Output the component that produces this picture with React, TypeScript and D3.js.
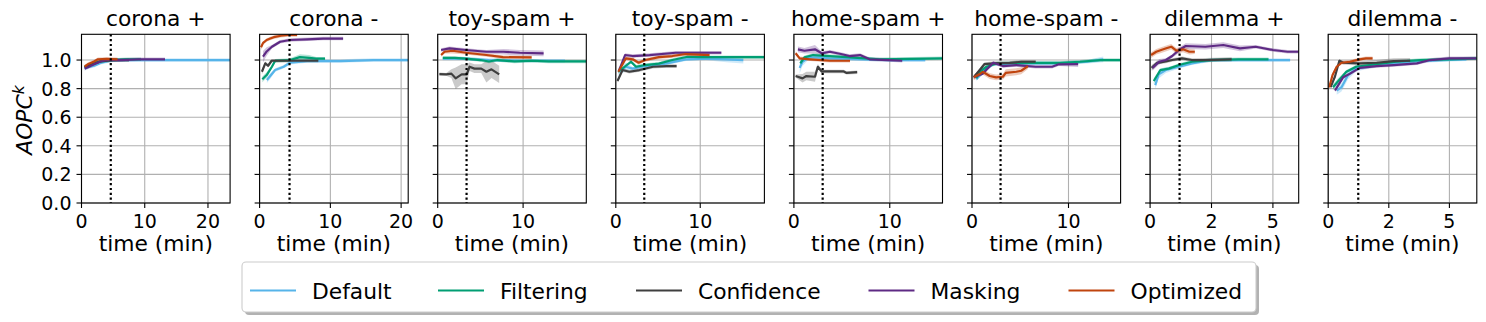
import React from 'react';
import * as d3 from 'd3';

type P = number[]; // [time, value, ciHalfWidth?]

const titles = ['corona +', 'corona -', 'toy-spam +', 'toy-spam -', 'home-spam +', 'home-spam -', 'dilemma +', 'dilemma -'];
const xMaxes = [23.5, 21, 17.4, 17.6, 15.5, 15.4, 6.05, 6.13];
const xTicks = [[0, 10, 20], [0, 10, 20], [0, 10], [0, 10], [0, 10], [0, 10], [0, 2.5, 5], [0, 2.5, 5]];
const xTickLabels = [['0', '10', '20'], ['0', '10', '20'], ['0', '10'], ['0', '10'], ['0', '10'], ['0', '10'], ['0', '2', '5'], ['0', '2', '5']];
const dottedAt = [4.63, 4.23, 3.38, 3.37, 3.0, 2.96, 1.2, 1.24];
const yTicks = [0, 0.2, 0.4, 0.6, 0.8, 1.0];
const yTickLabels = ['0.0', '0.2', '0.4', '0.6', '0.8', '1.0'];
const methods = ['Default', 'Filtering', 'Confidence', 'Masking', 'Optimized'];
const colors = ['#56B4E9', '#009E73', '#3f3f3f', '#5e2a84', '#c0440e'];

// series order: Default, Filtering, Confidence, Masking, Optimized
const coronaPlus: P[][] = [
  [[0.5, 0.94, 0.015], [1, 0.95], [2, 0.96], [3, 0.98], [4, 0.99], [5, 1.0], [8, 1.0], [12, 1.0], [16, 1.0], [20, 1.0], [23.5, 1.0]],
  [[0.5, 0.95], [1, 0.96], [2, 0.98], [3, 0.99], [5, 1.0], [7, 1.005], [9.4, 1.005]],
  [[0.5, 0.95], [1, 0.96], [2, 0.975], [3, 0.99], [5, 1.0], [7.5, 1.0]],
  [[0.5, 0.94], [1, 0.95], [2, 0.97], [3, 0.99], [4, 1.0], [6, 1.0], [9, 1.005], [13.2, 1.005]],
  [[0.5, 0.955], [1, 0.97], [2, 0.99], [2.6, 1.005], [4, 1.008], [5.7, 1.005]],
];
const coronaMinus: P[][] = [
  [[1.03, 0.86, 0.02], [1.5, 0.888, 0.02], [2.2, 0.93], [3.4, 0.953], [4.3, 0.981], [6.7, 0.993], [11.4, 0.993], [16.1, 1.0], [21, 1.0]],
  [[0.38, 0.865, 0.02], [1.0, 0.895, 0.02], [1.74, 0.953], [2.2, 0.995], [4.3, 1.0], [5.7, 1.02, 0.02], [7.0, 1.015, 0.02], [8.0, 1.01], [9.25, 1.01]],
  [[0.33, 0.918, 0.02], [0.8, 0.977], [1.2, 0.96], [1.7, 0.995], [3.2, 0.995], [8.3, 0.995]],
  [[0.48, 1.023, 0.04], [1.0, 1.06, 0.03], [1.74, 1.093], [2.9, 1.128], [4.3, 1.14], [6.7, 1.145], [9.0, 1.15], [11.8, 1.15]],
  [[0.2, 1.09, 0.02], [0.5, 1.12], [1, 1.14], [1.5, 1.15], [2, 1.16], [3, 1.17], [4, 1.175], [5.3, 1.175]],
];
const toySpamPlus: P[][] = [
  [[0.6, 1.01], [3, 1.01], [6, 1.0], [10, 0.995], [14.9, 0.995]],
  [[0.6, 1.015], [2, 1.015], [3.3, 1.01], [5, 1.0], [6, 0.99], [7, 1.0], [9, 0.99], [11, 0.995], [13, 0.99], [17.4, 0.99]],
  [[0.2, 0.902, 0.01], [1.0, 0.9, 0.01], [1.6, 0.905, 0.03], [2.1, 0.872, 0.075], [2.8, 0.9, 0.07], [3.4, 0.9, 0.07], [3.73, 0.953, 0.03], [4.3, 0.94, 0.03], [5.1, 0.94, 0.03], [5.7, 0.918, 0.075], [6.3, 0.935, 0.06], [7.2, 0.9, 0.06]],
  [[0.4, 1.07], [1.38, 1.082], [3.3, 1.07], [5.7, 1.058], [7.7, 1.058, 0.02], [9.6, 1.051, 0.02], [12.4, 1.047, 0.02]],
  [[0.4, 1.035], [0.8, 1.058], [1.76, 1.065, 0.02], [3.3, 1.051], [5.7, 1.035], [7.65, 1.02], [11.0, 1.018]],
];
const toySpamMinus: P[][] = [
  [[0.3, 0.92, 0.03], [1.2, 0.953, 0.03], [2.0, 0.94], [3.5, 0.958], [5.9, 0.975], [8.3, 1.005], [10.7, 1.01], [13.1, 1.005, 0.02], [15.1, 1.0, 0.025]],
  [[0.3, 0.918], [1.8, 0.988], [2.4, 0.953], [3.5, 0.965], [5.1, 0.975], [6.7, 1.0], [8.5, 1.023], [9.9, 1.02], [17.6, 1.02]],
  [[0.2, 0.853], [0.8, 0.93], [1.6, 0.918], [2.8, 0.93], [4.4, 0.953], [6.0, 0.958], [7.2, 0.958]],
  [[0.4, 0.93], [1.1, 1.035], [2.0, 1.028], [4.0, 1.035], [7.1, 1.051], [9.9, 1.051], [12.5, 1.051]],
  [[0.3, 0.918], [1.2, 1.012], [2.0, 1.005], [2.7, 0.981], [3.5, 1.0], [5.1, 1.02], [6.7, 1.028], [8.3, 1.042], [11.1, 1.035]],
];
const homeSpamPlus: P[][] = [
  [[0.6, 0.945, 0.04], [0.9, 0.988, 0.03], [1.6, 1.02], [3.7, 1.012], [7.2, 1.005], [10, 1.0], [13.7, 1.0]],
  [[0.67, 0.977, 0.02], [1.1, 1.019], [2.0, 1.035], [3.7, 1.028], [5.5, 1.02], [8.9, 1.005], [15.5, 1.012]],
  [[0.18, 0.888, 0.01], [0.9, 0.872, 0.03], [1.3, 0.888, 0.03], [2.2, 0.883, 0.035], [2.5, 0.953, 0.02], [2.9, 0.92], [5.2, 0.92], [5.5, 0.91], [6.6, 0.915]],
  [[0.42, 1.075, 0.02], [1.1, 1.065, 0.02], [2.2, 1.075, 0.03], [2.9, 1.047], [3.75, 1.058], [4.9, 1.042], [5.8, 1.028], [6.9, 1.035], [7.9, 1.005], [9.9, 1.0], [11.3, 0.995]],
  [[0.18, 1.047], [0.6, 1.012], [1.7, 1.005], [3.75, 0.995], [5.85, 0.995]],
];
const homeSpamMinus: P[][] = [
  [[0.45, 0.865], [1.3, 0.93], [2.2, 0.972], [5.7, 0.977], [9.1, 0.977], [11.9, 0.988], [13.6, 1.005, 0.02]],
  [[0.45, 0.872], [0.8, 0.918], [1.5, 0.953], [2.6, 0.977], [5.7, 0.98], [9.1, 0.98], [11.2, 0.988], [13.3, 1.0], [15.4, 1.0]],
  [[0.18, 0.88], [0.8, 0.93], [1.3, 0.972], [2.2, 0.977], [3.9, 0.98], [5.1, 0.988], [6.6, 0.988]],
  [[0.18, 0.88], [1.1, 0.905], [2.2, 0.981], [3.2, 0.958], [4.6, 0.965], [6.6, 0.953], [8.3, 0.953], [9.0, 0.97], [11.0, 0.972, 0.02]],
  [[0.18, 0.879, 0.02], [0.8, 0.902, 0.02], [1.1, 0.918, 0.02], [1.84, 0.888, 0.02], [2.5, 0.879, 0.02], [3.2, 0.883, 0.02], [3.5, 0.91, 0.025], [4.6, 0.918, 0.025], [5.1, 0.925, 0.025], [5.8, 0.958, 0.02]],
];
const dilemmaPlus: P[][] = [
  [[0.21, 0.825, 0.03], [0.35, 0.9, 0.03], [0.64, 0.93, 0.02], [1.18, 0.953], [1.7, 0.977], [2.5, 1.0], [3.6, 1.0], [5.7, 1.0]],
  [[0.15, 0.853, 0.02], [0.42, 0.93], [0.76, 0.94], [1.18, 0.965], [1.7, 0.988], [2.5, 1.0], [3.6, 1.005], [4.82, 1.005]],
  [[0.06, 0.945, 0.02], [0.29, 0.98], [0.64, 0.99], [0.9, 1.0], [1.3, 1.012], [1.7, 1.0], [2.25, 1.0, 0.015], [3.32, 1.005, 0.015]],
  [[0.1, 0.945, 0.02], [0.37, 0.988, 0.02], [0.64, 1.0], [0.9, 1.028], [1.18, 1.07, 0.02], [1.45, 1.098, 0.02], [2.25, 1.093, 0.02], [2.98, 1.105, 0.02], [3.66, 1.082, 0.02], [4.3, 1.093], [5.0, 1.07], [5.6, 1.058], [6.05, 1.058]],
  [[0.04, 1.035, 0.02], [0.25, 1.058, 0.02], [0.45, 1.07, 0.02], [0.66, 1.082, 0.02], [0.86, 1.093, 0.02], [1.07, 1.065, 0.02], [1.34, 1.075, 0.02], [1.6, 1.058, 0.02], [1.82, 1.058, 0.015]],
];
const dilemmaMinus: P[][] = [
  [[0.35, 0.787, 0.03], [0.55, 0.81, 0.03], [0.82, 0.895, 0.03], [1.15, 0.94, 0.02], [2.0, 0.965], [3.38, 0.988], [4.75, 1.0], [5.7, 1.005]],
  [[0.2, 0.81, 0.02], [0.4, 0.85, 0.02], [0.75, 0.918], [1.15, 0.953], [2.0, 0.972], [2.8, 0.988], [3.8, 1.0], [5.0, 1.005], [6.13, 1.012]],
  [[0.1, 0.81], [0.28, 0.885], [0.46, 0.995], [0.62, 0.981], [1.3, 0.977, 0.015], [2.0, 0.981, 0.02], [2.7, 0.993, 0.02], [3.38, 0.995, 0.02]],
  [[0.28, 0.787], [0.62, 0.88], [0.9, 0.905], [1.3, 0.945], [2.0, 0.958], [2.7, 0.965], [3.66, 0.977], [4.2, 1.0], [5.0, 1.012], [6.1, 1.012]],
  [[0.04, 0.809], [0.18, 0.895], [0.35, 0.953], [0.55, 0.981], [0.9, 0.988], [1.3, 1.005], [1.56, 1.012], [1.83, 1.012]],
];

const panels = [coronaPlus, coronaMinus, toySpamPlus, toySpamMinus, homeSpamPlus, homeSpamMinus, dilemmaPlus, dilemmaMinus];

const W = 1486;
const H = 322;
const FONT = 'DejaVu Sans, sans-serif';
const left0 = 81.5;
const step = 178.1;
const pw = 148.6;
const top = 34.3;
const bottom = 203;
const yMax = 1.18;
const defaultCi = 0.012;
const legendHandles = [250, 438, 636, 868.5, 1068.5];
const BIG = 21.8;
const TICK = 19;

export default function App() {
  const y = d3.scaleLinear().domain([0, yMax]).range([bottom, top]);
  return (
    <svg width={W} height={H} style={{ position: 'absolute', left: 0, top: 0, background: '#fff' }} fontFamily={FONT}>
      <defs>
        {panels.map((_, i) => (
          <clipPath id={`clip${i}`} key={i}>
            <rect x={left0 + i * step} y={top} width={pw} height={bottom - top} />
          </clipPath>
        ))}
      </defs>
      {panels.map((series, i) => {
        const x0 = left0 + i * step;
        const x = d3.scaleLinear().domain([0, xMaxes[i]]).range([x0, x0 + pw]);
        const line = d3.line<P>().x((d) => x(d[0])).y((d) => y(d[1]));
        const area = d3
          .area<P>()
          .x((d) => x(d[0]))
          .y0((d) => y(d[1] - (d[2] ?? defaultCi)))
          .y1((d) => y(d[1] + (d[2] ?? defaultCi)));
        return (
          <g key={i}>
            {yTicks.map((t) => (
              <line key={'gy' + t} x1={x0} x2={x0 + pw} y1={y(t)} y2={y(t)} stroke="#b0b0b0" strokeWidth={1.1} />
            ))}
            {xTicks[i].map((t) => (
              <line key={'gx' + t} x1={x(t)} x2={x(t)} y1={top} y2={bottom} stroke="#b0b0b0" strokeWidth={1.1} />
            ))}
            <g clipPath={`url(#clip${i})`}>
              {series.map((s, k) => (
                <path key={'a' + k} d={area(s) || ''} fill={colors[k]} fillOpacity={0.28} stroke="none" />
              ))}
              {series.map((s, k) => (
                <path key={'l' + k} d={line(s) || ''} fill="none" stroke={colors[k]} strokeWidth={2.2} strokeLinejoin="round" />
              ))}
            </g>
            <line x1={x(dottedAt[i])} x2={x(dottedAt[i])} y1={top} y2={bottom} stroke="#000" strokeWidth={2.2} strokeDasharray="2.2,2.6" />
            <rect x={x0} y={top} width={pw} height={bottom - top} fill="none" stroke="#000" strokeWidth={1.1} />
            {yTicks.map((t) => (
              <line key={'ty' + t} x1={x0 - 5} x2={x0} y1={y(t)} y2={y(t)} stroke="#000" strokeWidth={1.1} />
            ))}
            {i === 0 &&
              yTicks.map((t, j) => (
                <text key={'yl' + t} x={x0 - 10} y={y(t) + 7} fontSize={TICK} textAnchor="end" fill="#000">
                  {yTickLabels[j]}
                </text>
              ))}
            {xTicks[i].map((t, j) => (
              <g key={'tx' + t}>
                <line x1={x(t)} x2={x(t)} y1={bottom} y2={bottom + 5} stroke="#000" strokeWidth={1.1} />
                <text x={x(t)} y={bottom + 24.5} fontSize={TICK} textAnchor="middle" fill="#000">
                  {xTickLabels[i][j]}
                </text>
              </g>
            ))}
            <text x={x0 + pw / 2} y={250.5} fontSize={BIG} textAnchor="middle" fill="#000">
              time (min)
            </text>
            <text x={x0 + pw / 2} y={26} fontSize={BIG} textAnchor="middle" fill="#000">
              {titles[i]}
            </text>
          </g>
        );
      })}
      <text transform="translate(32,120) rotate(-90)" fontSize={BIG} textAnchor="middle" fill="#000" fontStyle="italic">
        AOPC<tspan fontSize={15.5} dy={-8.5}>k</tspan>
      </text>
      <rect x={245} y={265} width={1014} height={50} rx={4} fill="#000" fillOpacity={0.3} />
      <rect x={242} y={262} width={1014} height={50} rx={4} fill="#fff" stroke="#cccccc" strokeWidth={1.1} />
      {methods.map((m, k) => (
        <g key={m}>
          <line x1={legendHandles[k]} x2={legendHandles[k] + 46} y1={290.5} y2={290.5} stroke={colors[k]} strokeWidth={2.2} />
          <text x={legendHandles[k] + 62} y={298.5} fontSize={BIG} fill="#000">
            {m}
          </text>
        </g>
      ))}
    </svg>
  );
}
